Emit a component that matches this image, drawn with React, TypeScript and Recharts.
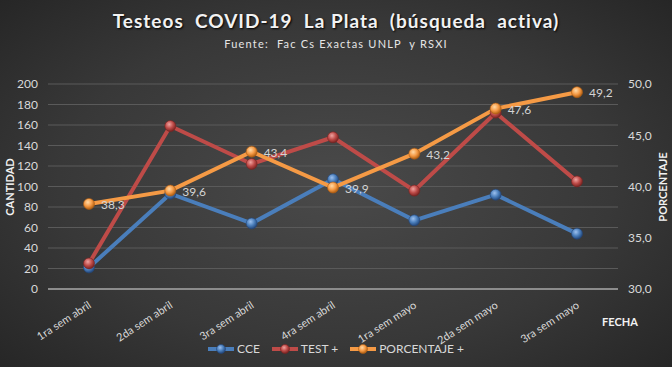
import React from 'react';
import { LineChart, Line, XAxis, YAxis, CartesianGrid } from 'recharts';

const semanas = [
  '1ra sem abril',
  '2da sem abril',
  '3ra sem abril',
  '4ra sem abril',
  '1ra sem mayo',
  '2da sem mayo',
  '3ra sem mayo',
];
const cce = [21, 93, 64, 107, 67, 92, 54];
const testPos = [25, 159, 122, 148, 96, 172, 105];
const porcentaje = [38.3, 39.6, 43.4, 39.9, 43.2, 47.6, 49.2];

const cantidadTicks = [0, 20, 40, 60, 80, 100, 120, 140, 160, 180, 200];
const porcentajeTicks = [30, 35, 40, 45, 50];

const data = semanas.map((s, i) => ({
  semana: s,
  cce: cce[i],
  test: testPos[i],
  pct: porcentaje[i],
}));

const FONT = 'Lato, "Open Sans", sans-serif';
const TXT = '#d9d9d9';

const coma = (v: number) => v.toFixed(1).replace('.', ',');

const series = [
  { key: 'cce', name: 'CCE', color: '#4a7ebb', dark: '#24477a', light: '#9cc0ee', grad: 'gBlue' },
  { key: 'test', name: 'TEST +', color: '#be4b48', dark: '#7a2422', light: '#f0a3a0', grad: 'gRed' },
  { key: 'pct', name: 'PORCENTAJE +', color: '#f59a45', dark: '#b05e12', light: '#ffd9a6', grad: 'gOrange' },
];

function Dot(grad: string, dark: string) {
  return (p: any) => (
    <circle
      key={p.index}
      cx={p.cx}
      cy={p.cy}
      r={5.5}
      fill={`url(#${grad})`}
      stroke={dark}
      strokeWidth={0.6}
    />
  );
}

function SemanaTick({ x, y, payload }: any) {
  return (
    <g transform={`translate(${x + 3},${y + 10})`}>
      <text
        x={0}
        y={0}
        textAnchor="end"
        transform="rotate(-33)"
        fill={TXT}
        fontSize={11}
        fontFamily={FONT}
      >
        {payload.value}
      </text>
    </g>
  );
}

function PctLabel({ x, y, value }: any) {
  return (
    <text x={x + 12} y={y + 5} fill="#d4d4d4" fontSize={12} fontFamily={FONT}>
      {coma(value)}
    </text>
  );
}

function Leyenda() {
  return (
    <div style={{ display: 'flex', justifyContent: 'center', gap: 12, fontFamily: FONT, fontSize: 12, color: TXT }}>
      {series.map((s) => (
        <div key={s.key} style={{ display: 'flex', alignItems: 'center', gap: 3 }}>
          <svg width={26} height={12}>
            <line x1={0} y1={6} x2={26} y2={6} stroke={s.color} strokeWidth={4} />
            <circle cx={13} cy={6} r={4.5} fill={`url(#${s.grad})`} stroke={s.dark} strokeWidth={0.6} />
          </svg>
          <span>{s.name}</span>
        </div>
      ))}
    </div>
  );
}

export default function App() {
  return (
    <div
      style={{
        position: 'absolute',
        left: 0,
        top: 0,
        width: 672,
        height: 367,
        overflow: 'hidden',
        background: 'radial-gradient(ellipse 75% 80% at 50% 50%, #4a4a4a 0%, #383838 55%, #222222 100%)',
        fontFamily: FONT,
      }}
    >
      <div
        style={{
          position: 'absolute',
          top: 9,
          width: 672,
          textAlign: 'center',
          color: '#f2f2f2',
          fontSize: 19,
          fontWeight: 700,
          letterSpacing: 1,
          whiteSpace: 'pre',
          textShadow: '1px 1px 2px #000',
        }}
      >
        {'Testeos  COVID-19  La Plata  (búsqueda  activa)'}
      </div>
      <div
        style={{
          position: 'absolute',
          top: 37,
          width: 672,
          textAlign: 'center',
          color: '#e6e6e6',
          fontSize: 11,
          letterSpacing: 1.2,
          whiteSpace: 'pre',
        }}
      >
        {'Fuente:  Fac Cs Exactas UNLP  y RSXI'}
      </div>

      <LineChart width={672} height={367} data={data} margin={{ top: 84, right: 0, bottom: 0, left: 0 }}>
        <defs>
          {series.map((s) => (
            <radialGradient key={s.grad} id={s.grad} cx="40%" cy="35%" r="65%">
              <stop offset="0%" stopColor={s.light} />
              <stop offset="55%" stopColor={s.color} />
              <stop offset="100%" stopColor={s.dark} />
            </radialGradient>
          ))}
        </defs>
        <CartesianGrid horizontal vertical={false} stroke="#5a5a5a" strokeWidth={1} />
        <XAxis
          dataKey="semana"
          height={78}
          padding={{ left: 41, right: 41 }}
          axisLine={{ stroke: '#8c8c8c', strokeWidth: 2 }}
          tickLine={false}
          tick={<SemanaTick />}
          interval={0}
        />
        <YAxis
          width={48}
          domain={[0, 200]}
          ticks={cantidadTicks}
          axisLine={false}
          tickLine={false}
          tickSize={0}
          tickMargin={10}
          tick={{ fill: TXT, fontSize: 12, fontFamily: FONT }}
          interval={0}
        />
        <YAxis
          yAxisId="r"
          orientation="right"
          width={54}
          domain={[30, 50]}
          ticks={porcentajeTicks}
          tickFormatter={coma}
          axisLine={false}
          tickLine={false}
          tickSize={0}
          tickMargin={10}
          tick={{ fill: TXT, fontSize: 12, fontFamily: FONT, textAnchor: 'start' }}
          interval={0}
        />
        <Line
          dataKey="cce"
          name="CCE"
          stroke="#4a7ebb"
          strokeWidth={4}
          dot={Dot('gBlue', '#24477a')}
          activeDot={false}
          isAnimationActive={false}
        />
        <Line
          dataKey="test"
          name="TEST +"
          stroke="#be4b48"
          strokeWidth={4}
          dot={Dot('gRed', '#7a2422')}
          activeDot={false}
          isAnimationActive={false}
        />
        <Line
          yAxisId="r"
          dataKey="pct"
          name="PORCENTAJE +"
          stroke="#f59a45"
          strokeWidth={4}
          dot={Dot('gOrange', '#b05e12')}
          activeDot={false}
          label={<PctLabel />}
          isAnimationActive={false}
        />
      </LineChart>

      <div style={{ position: 'absolute', left: 0, top: 341, width: 672 }}>
        <Leyenda />
      </div>

      <div
        style={{
          position: 'absolute',
          left: 9,
          top: 187,
          transform: 'translate(-50%, -50%) rotate(-90deg)',
          color: '#f2f2f2',
          fontSize: 11,
          fontWeight: 700,
        }}
      >
        CANTIDAD
      </div>
      <div
        style={{
          position: 'absolute',
          left: 662,
          top: 187,
          transform: 'translate(-50%, -50%) rotate(-90deg)',
          color: '#f2f2f2',
          fontSize: 11,
          fontWeight: 700,
        }}
      >
        PORCENTAJE
      </div>
      <div
        style={{
          position: 'absolute',
          left: 602,
          top: 315,
          color: '#f2f2f2',
          fontSize: 11,
          fontWeight: 700,
        }}
      >
        FECHA
      </div>
    </div>
  );
}
